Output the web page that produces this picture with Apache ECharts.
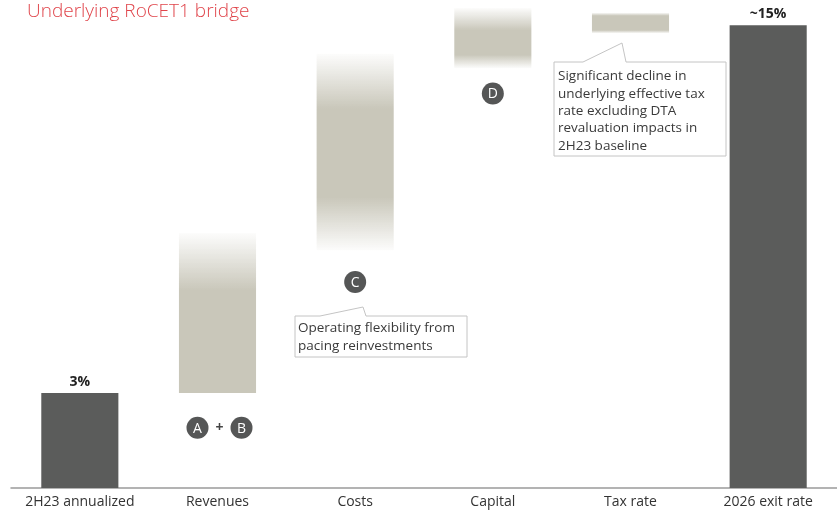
<!DOCTYPE html>
<html>
<head>
<meta charset="utf-8">
<title>Underlying RoCET1 bridge</title>
<script src="https://cdn.jsdelivr.net/npm/echarts@6/dist/echarts.min.js"></script>
<style>
  html, body { margin: 0; padding: 0; background: #fff; }
  #chart { width: 837px; height: 515px; }
</style>
</head>
<body>
<div id="chart"></div>
<script>
// bridge steps, values in % RoCET1
const categories = ['2H23 annualized', 'Revenues', 'Costs', 'Capital', 'Tax rate', '2026 exit rate'];
const barStart = [0, 3.0, 7.5, 13.25, 14.35, 0];
const barEnd = [3.0, 8.05, 13.7, 15.15, 15.0, 14.6];
const barLabels = ['3%', '', '', '', '', '~15%'];

// lettered markers
const badgeLetters = ['A', 'B', 'C', 'D'];
const badgeCategory = ['Revenues', 'Revenues', 'Costs', 'Capital'];
const badgeValue = [1.9, 1.9, 6.5, 12.45];

const font = '"Open Sans", "Noto Sans", sans-serif';
const dark = '#5b5c5b';
const beige = '#c9c7ba';

// fade on top / bottom of the driver bars (fraction of bar height)
const fades = [null, [0.36, 0], [0.28, 0.27], [0.37, 0.22], [0.15, 0.15], null];

function beigeFill(f) {
  let stops = [];
  stops.push({offset: 0, color: 'rgba(201,199,186,0.05)'});
  stops.push({offset: f[0], color: beige});
  if (f[1] > 0) {
    stops.push({offset: 1 - f[1], color: beige});
    stops.push({offset: 1, color: 'rgba(201,199,186,0.05)'});
  } else {
    stops.push({offset: 1, color: beige});
  }
  return {type: 'linear', x: 0, y: 0, x2: 0, y2: 1, colorStops: stops};
}

let baseData = barStart.map(v => v);
let deltaData = barEnd.map((v, i) => {
  let item = {value: +(v - barStart[i]).toFixed(2)};
  if (fades[i]) {
    item.itemStyle = {color: beigeFill(fades[i])};
  } else {
    item.itemStyle = {color: dark};
    item.label = {show: true, formatter: barLabels[i]};
  }
  return item;
});

function callout(points, textX, textY, lines) {
  return {
    type: 'group',
    children: [
      {
        type: 'polygon',
        shape: {points: points},
        style: {fill: '#fff', stroke: '#c4c4c4', lineWidth: 1}
      },
      {
        type: 'text',
        x: textX, y: textY,
        style: {
          text: lines.join('\n'),
          font: '13.5px ' + font,
          fill: '#3a3a3a',
          lineHeight: 17.3
        }
      }
    ]
  };
}

let myChart = echarts.init(document.getElementById('chart'));
let option = {
  animation: false,
  title: {
    text: 'Underlying RoCET1 bridge',
    left: 27, top: 2, padding: 0,
    textStyle: {color: '#e0454b', fontSize: 19, fontWeight: 300, fontFamily: font}
  },
  grid: {left: 11, right: -2, top: 0, bottom: 27, containLabel: false},
  xAxis: {
    type: 'category',
    data: categories,
    axisTick: {show: false},
    axisLine: {lineStyle: {color: '#9a9a9a', width: 1.5}},
    axisLabel: {color: '#333', fontSize: 14, fontFamily: font, margin: 7, interval: 0}
  },
  yAxis: {
    type: 'value', min: 0, max: 15.4,
    show: false,
    splitLine: {show: false}
  },
  series: [
    {
      name: 'base',
      type: 'bar',
      stack: 'bridge',
      silent: true,
      barWidth: '56%',
      itemStyle: {color: 'transparent'},
      data: baseData
    },
    {
      name: 'change',
      type: 'bar',
      stack: 'bridge',
      silent: true,
      clip: false,
      barWidth: '56%',
      label: {
        show: false,
        position: 'top',
        distance: 4,
        color: '#222',
        fontSize: 14,
        fontWeight: 'bold',
        fontFamily: font
      },
      data: deltaData
    }
  ]
};
myChart.setOption(option);

// lettered circles placed through the chart's own scales
let badgeShift = [-20, 24, 0, 0];
let graphics = [];
badgeLetters.forEach((l, i) => {
  let p = myChart.convertToPixel({seriesIndex: 1}, [badgeCategory[i], badgeValue[i]]);
  let x = p[0] + badgeShift[i], y = p[1];
  graphics.push({type: 'circle', shape: {cx: x, cy: y, r: 11}, style: {fill: '#555656'}, silent: true});
  graphics.push({type: 'text', x: x, y: y + 1, silent: true,
    style: {text: l, font: '14px ' + font, fill: '#fff', align: 'center', verticalAlign: 'middle'}});
});
let pPlus = myChart.convertToPixel({seriesIndex: 1}, [badgeCategory[0], badgeValue[0]]);
graphics.push({type: 'text', x: pPlus[0] + 2, y: pPlus[1], silent: true,
  style: {text: '+', font: 'bold 14px ' + font, fill: '#444', align: 'center', verticalAlign: 'middle'}});
graphics.push(callout([[320, 316], [363, 307], [366, 316], [467, 316], [467, 357], [295, 357], [295, 316]],
  298, 320, ['Operating flexibility from', 'pacing reinvestments']));
graphics.push(callout([[583, 62], [622, 43], [626, 62], [726, 62], [726, 156], [554, 156], [554, 62]],
  558, 68, ['Significant decline in', 'underlying effective tax', 'rate excluding DTA', 'revaluation impacts in', '2H23 baseline']));
myChart.setOption({graphic: graphics});
</script>
</body>
</html>
